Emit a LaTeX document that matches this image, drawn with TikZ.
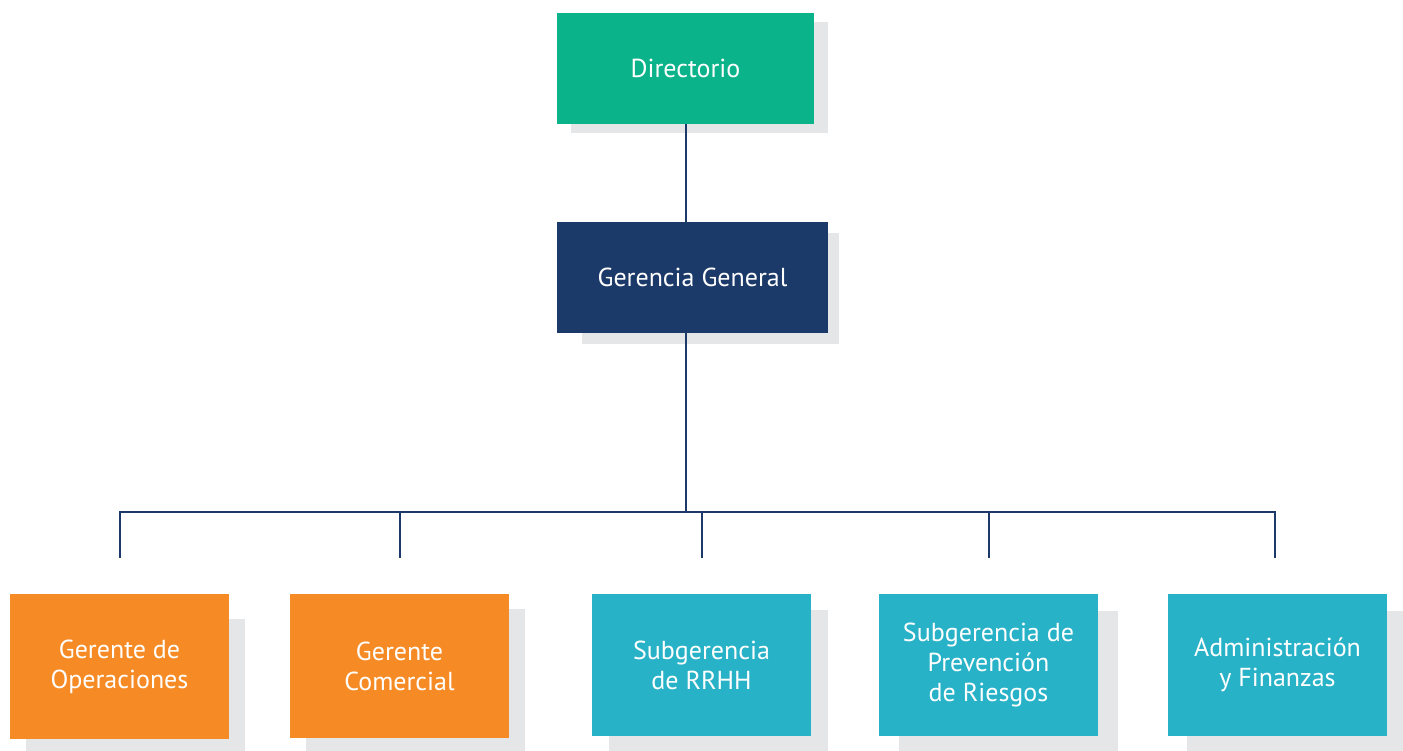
\documentclass[tikz,border=0pt]{standalone}
\usepackage{fontspec}
\setmainfont{PT Sans}
\usetikzlibrary{backgrounds}

\definecolor{dirgreen}{HTML}{0BB38A}
\definecolor{navy}{HTML}{1C3A69}
\definecolor{boxorange}{HTML}{F68B25}
\definecolor{boxteal}{HTML}{27B2C7}
\definecolor{shadowgray}{HTML}{E5E6E8}

\begin{document}
\begin{tikzpicture}[x=0.5pt,y=-0.5pt,
        box/.style={inner sep=0pt,text=white,align=center,font=\fontsize{13}{15}\selectfont},
        link/.style={draw=navy,line width=1pt},
        boxshadow/.style={fill=shadowgray}]
        \useasboundingbox (0,0) rectangle (1403,750);
        \clip (0,0) rectangle (1403,750);

        \coordinate (bus) at (685.5,512);

        \node[box,fill=dirgreen,minimum width=128.5pt,minimum height=55.5pt] (dir) at (685.5,68.5) {Directorio};
        \node[box,fill=navy,minimum width=135.5pt,minimum height=55.5pt] (gg) at (692.5,277.5) {Gerencia General};

        \node[box,fill=boxorange,minimum width=109.5pt,minimum height=72.5pt] (op) at (119.5,666.5) {Gerente de\\Operaciones};
        \node[box,fill=boxorange,minimum width=109.5pt,minimum height=72pt] (co) at (399.5,666) {Gerente\\Comercial};
        \node[box,fill=boxteal,minimum width=109.5pt,minimum height=71pt] (rh) at (701.5,665) {Subgerencia\\de RRHH};
        \node[box,fill=boxteal,minimum width=109.5pt,minimum height=71pt] (pr) at (988.5,665) {Subgerencia de\\Prevención\\de Riesgos};
        \node[box,fill=boxteal,minimum width=109.5pt,minimum height=71pt] (ad) at (1277.5,665) {Administración\\y Finanzas};

        % shadows
        \begin{scope}[on background layer]
            \fill[boxshadow] ([shift={(14,9)}]dir.south west) rectangle ([shift={(14,9)}]dir.north east);
            \fill[boxshadow] ([shift={(25,11)}]gg.south west) rectangle ([shift={(11,11)}]gg.north east);
            \foreach \n/\dx/\dy in {op/16/25,co/16/15,rh/17/16,pr/20/17,ad/19/17}
                \fill[boxshadow] ([shift={(\dx,\dy)}]\n.south west) rectangle ([shift={(\dx,\dy)}]\n.north east);
        \end{scope}

        % lines
        \draw[link] (dir.south) -- (dir.south |- gg.north);
        \draw[link] (dir.south |- gg.south) -- (bus);
        \draw[link] ([yshift=18pt]op.north) |- (bus) -| ([xshift=-1.25pt,yshift=18pt]ad.north);
        \foreach \n in {co,rh,pr}
            \draw[link] ([yshift=18pt]\n.north) -- (\n.north |- bus);
\end{tikzpicture}
\end{document}
